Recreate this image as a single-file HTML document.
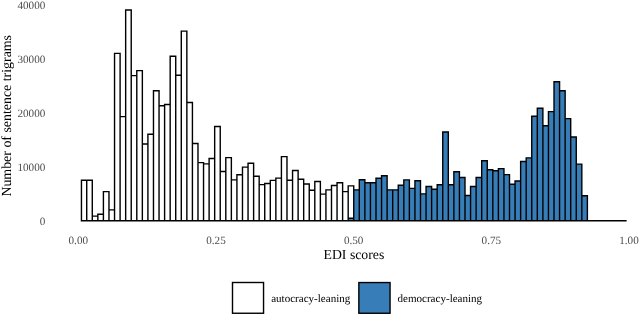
<!DOCTYPE html>
<html><head><meta charset="utf-8"><style>
html,body{margin:0;padding:0;background:#fff;}
svg{display:block;will-change:transform;}
text{font-family:"Liberation Serif",serif;text-rendering:geometricPrecision;}
</style></head><body>
<svg width="640" height="316" viewBox="0 0 640 316">
<rect width="640" height="316" fill="#fff"/>
<g>
<rect x="81.45" y="180.30" width="5.273" height="40.45" fill="#FFFFFF"/>
<rect x="86.72" y="180.30" width="5.563" height="40.45" fill="#FFFFFF"/>
<rect x="92.29" y="216.10" width="5.563" height="4.65" fill="#FFFFFF"/>
<rect x="97.85" y="214.20" width="5.563" height="6.55" fill="#FFFFFF"/>
<rect x="103.41" y="191.60" width="5.563" height="29.15" fill="#FFFFFF"/>
<rect x="108.97" y="209.90" width="5.563" height="10.85" fill="#FFFFFF"/>
<rect x="114.54" y="53.40" width="5.563" height="167.35" fill="#FFFFFF"/>
<rect x="120.10" y="116.60" width="5.563" height="104.15" fill="#FFFFFF"/>
<rect x="125.66" y="10.00" width="5.563" height="210.75" fill="#FFFFFF"/>
<rect x="131.23" y="75.60" width="5.563" height="145.15" fill="#FFFFFF"/>
<rect x="136.79" y="70.60" width="5.563" height="150.15" fill="#FFFFFF"/>
<rect x="142.35" y="144.00" width="5.563" height="76.75" fill="#FFFFFF"/>
<rect x="147.91" y="134.20" width="5.563" height="86.55" fill="#FFFFFF"/>
<rect x="153.48" y="90.80" width="5.563" height="129.95" fill="#FFFFFF"/>
<rect x="159.04" y="105.70" width="5.563" height="115.05" fill="#FFFFFF"/>
<rect x="164.60" y="104.50" width="5.563" height="116.25" fill="#FFFFFF"/>
<rect x="170.17" y="56.20" width="5.563" height="164.55" fill="#FFFFFF"/>
<rect x="175.73" y="75.30" width="5.563" height="145.45" fill="#FFFFFF"/>
<rect x="181.29" y="31.10" width="5.563" height="189.65" fill="#FFFFFF"/>
<rect x="186.86" y="102.50" width="5.563" height="118.25" fill="#FFFFFF"/>
<rect x="192.42" y="143.50" width="5.563" height="77.25" fill="#FFFFFF"/>
<rect x="197.98" y="162.60" width="5.563" height="58.15" fill="#FFFFFF"/>
<rect x="203.54" y="163.90" width="5.563" height="56.85" fill="#FFFFFF"/>
<rect x="209.11" y="158.50" width="5.563" height="62.25" fill="#FFFFFF"/>
<rect x="214.67" y="126.50" width="5.563" height="94.25" fill="#FFFFFF"/>
<rect x="220.23" y="171.50" width="5.563" height="49.25" fill="#FFFFFF"/>
<rect x="225.80" y="157.60" width="5.563" height="63.15" fill="#FFFFFF"/>
<rect x="231.36" y="179.90" width="5.563" height="40.85" fill="#FFFFFF"/>
<rect x="236.92" y="174.70" width="5.563" height="46.05" fill="#FFFFFF"/>
<rect x="242.48" y="167.10" width="5.563" height="53.65" fill="#FFFFFF"/>
<rect x="248.05" y="163.30" width="5.563" height="57.45" fill="#FFFFFF"/>
<rect x="253.61" y="176.20" width="5.563" height="44.55" fill="#FFFFFF"/>
<rect x="259.17" y="184.60" width="5.563" height="36.15" fill="#FFFFFF"/>
<rect x="264.74" y="183.50" width="5.563" height="37.25" fill="#FFFFFF"/>
<rect x="270.30" y="180.40" width="5.563" height="40.35" fill="#FFFFFF"/>
<rect x="275.86" y="178.10" width="5.563" height="42.65" fill="#FFFFFF"/>
<rect x="281.42" y="156.60" width="5.563" height="64.15" fill="#FFFFFF"/>
<rect x="286.99" y="180.30" width="5.563" height="40.45" fill="#FFFFFF"/>
<rect x="292.55" y="170.50" width="5.563" height="50.25" fill="#FFFFFF"/>
<rect x="298.11" y="179.20" width="5.563" height="41.55" fill="#FFFFFF"/>
<rect x="303.68" y="184.00" width="5.563" height="36.75" fill="#FFFFFF"/>
<rect x="309.24" y="190.30" width="5.563" height="30.45" fill="#FFFFFF"/>
<rect x="314.80" y="181.50" width="5.563" height="39.25" fill="#FFFFFF"/>
<rect x="320.36" y="194.10" width="5.563" height="26.65" fill="#FFFFFF"/>
<rect x="325.93" y="189.90" width="5.563" height="30.85" fill="#FFFFFF"/>
<rect x="331.49" y="185.50" width="5.563" height="35.25" fill="#FFFFFF"/>
<rect x="337.05" y="182.70" width="5.563" height="38.05" fill="#FFFFFF"/>
<rect x="342.62" y="191.60" width="5.563" height="29.15" fill="#FFFFFF"/>
<rect x="348.18" y="218.20" width="5.563" height="2.55" fill="#377EB8"/>
<rect x="348.18" y="185.90" width="5.563" height="32.30" fill="#FFFFFF"/>
<rect x="353.74" y="189.90" width="5.563" height="30.85" fill="#377EB8"/>
<rect x="359.30" y="179.80" width="5.563" height="40.95" fill="#377EB8"/>
<rect x="364.87" y="182.70" width="5.563" height="38.05" fill="#377EB8"/>
<rect x="370.43" y="182.70" width="5.563" height="38.05" fill="#377EB8"/>
<rect x="375.99" y="178.30" width="5.563" height="42.45" fill="#377EB8"/>
<rect x="381.56" y="175.80" width="5.563" height="44.95" fill="#377EB8"/>
<rect x="387.12" y="189.90" width="5.563" height="30.85" fill="#377EB8"/>
<rect x="392.68" y="189.90" width="5.563" height="30.85" fill="#377EB8"/>
<rect x="398.25" y="185.30" width="5.563" height="35.45" fill="#377EB8"/>
<rect x="403.81" y="179.90" width="5.563" height="40.85" fill="#377EB8"/>
<rect x="409.37" y="188.40" width="5.563" height="32.35" fill="#377EB8"/>
<rect x="414.93" y="180.70" width="5.563" height="40.05" fill="#377EB8"/>
<rect x="420.50" y="193.90" width="5.563" height="26.85" fill="#377EB8"/>
<rect x="426.06" y="186.50" width="5.563" height="34.25" fill="#377EB8"/>
<rect x="431.62" y="189.30" width="5.563" height="31.45" fill="#377EB8"/>
<rect x="437.19" y="184.70" width="5.563" height="36.05" fill="#377EB8"/>
<rect x="442.75" y="132.00" width="5.563" height="88.75" fill="#377EB8"/>
<rect x="448.31" y="184.70" width="5.563" height="36.05" fill="#377EB8"/>
<rect x="453.87" y="171.80" width="5.563" height="48.95" fill="#377EB8"/>
<rect x="459.44" y="177.50" width="5.563" height="43.25" fill="#377EB8"/>
<rect x="465.00" y="195.50" width="5.563" height="25.25" fill="#377EB8"/>
<rect x="470.56" y="186.50" width="5.563" height="34.25" fill="#377EB8"/>
<rect x="476.13" y="177.50" width="5.563" height="43.25" fill="#377EB8"/>
<rect x="481.69" y="160.70" width="5.563" height="60.05" fill="#377EB8"/>
<rect x="487.25" y="169.80" width="5.563" height="50.95" fill="#377EB8"/>
<rect x="492.81" y="170.70" width="5.563" height="50.05" fill="#377EB8"/>
<rect x="498.38" y="168.60" width="5.563" height="52.15" fill="#377EB8"/>
<rect x="503.94" y="174.60" width="5.563" height="46.15" fill="#377EB8"/>
<rect x="509.50" y="184.30" width="5.563" height="36.45" fill="#377EB8"/>
<rect x="515.07" y="181.00" width="5.563" height="39.75" fill="#377EB8"/>
<rect x="520.63" y="161.50" width="5.563" height="59.25" fill="#377EB8"/>
<rect x="526.19" y="157.90" width="5.563" height="62.85" fill="#377EB8"/>
<rect x="531.75" y="116.20" width="5.563" height="104.55" fill="#377EB8"/>
<rect x="537.32" y="108.20" width="5.563" height="112.55" fill="#377EB8"/>
<rect x="542.88" y="125.80" width="5.563" height="94.95" fill="#377EB8"/>
<rect x="548.44" y="111.60" width="5.563" height="109.15" fill="#377EB8"/>
<rect x="554.01" y="81.80" width="5.563" height="138.95" fill="#377EB8"/>
<rect x="559.57" y="90.70" width="5.563" height="130.05" fill="#377EB8"/>
<rect x="565.13" y="118.60" width="5.563" height="102.15" fill="#377EB8"/>
<rect x="570.70" y="137.00" width="5.563" height="83.75" fill="#377EB8"/>
<rect x="576.26" y="164.10" width="5.563" height="56.65" fill="#377EB8"/>
<rect x="581.82" y="195.80" width="5.563" height="24.95" fill="#377EB8"/>
</g>
<path d="M81.45 180.30h5.273v40.45h-5.273zM86.72 180.30h5.563v40.45h-5.563zM92.29 216.10h5.563v4.65h-5.563zM97.85 214.20h5.563v6.55h-5.563zM103.41 191.60h5.563v29.15h-5.563zM108.97 209.90h5.563v10.85h-5.563zM114.54 53.40h5.563v167.35h-5.563zM120.10 116.60h5.563v104.15h-5.563zM125.66 10.00h5.563v210.75h-5.563zM131.23 75.60h5.563v145.15h-5.563zM136.79 70.60h5.563v150.15h-5.563zM142.35 144.00h5.563v76.75h-5.563zM147.91 134.20h5.563v86.55h-5.563zM153.48 90.80h5.563v129.95h-5.563zM159.04 105.70h5.563v115.05h-5.563zM164.60 104.50h5.563v116.25h-5.563zM170.17 56.20h5.563v164.55h-5.563zM175.73 75.30h5.563v145.45h-5.563zM181.29 31.10h5.563v189.65h-5.563zM186.86 102.50h5.563v118.25h-5.563zM192.42 143.50h5.563v77.25h-5.563zM197.98 162.60h5.563v58.15h-5.563zM203.54 163.90h5.563v56.85h-5.563zM209.11 158.50h5.563v62.25h-5.563zM214.67 126.50h5.563v94.25h-5.563zM220.23 171.50h5.563v49.25h-5.563zM225.80 157.60h5.563v63.15h-5.563zM231.36 179.90h5.563v40.85h-5.563zM236.92 174.70h5.563v46.05h-5.563zM242.48 167.10h5.563v53.65h-5.563zM248.05 163.30h5.563v57.45h-5.563zM253.61 176.20h5.563v44.55h-5.563zM259.17 184.60h5.563v36.15h-5.563zM264.74 183.50h5.563v37.25h-5.563zM270.30 180.40h5.563v40.35h-5.563zM275.86 178.10h5.563v42.65h-5.563zM281.42 156.60h5.563v64.15h-5.563zM286.99 180.30h5.563v40.45h-5.563zM292.55 170.50h5.563v50.25h-5.563zM298.11 179.20h5.563v41.55h-5.563zM303.68 184.00h5.563v36.75h-5.563zM309.24 190.30h5.563v30.45h-5.563zM314.80 181.50h5.563v39.25h-5.563zM320.36 194.10h5.563v26.65h-5.563zM325.93 189.90h5.563v30.85h-5.563zM331.49 185.50h5.563v35.25h-5.563zM337.05 182.70h5.563v38.05h-5.563zM342.62 191.60h5.563v29.15h-5.563zM348.18 218.20h5.563v2.55h-5.563zM348.18 185.90h5.563v32.30h-5.563zM353.74 189.90h5.563v30.85h-5.563zM359.30 179.80h5.563v40.95h-5.563zM364.87 182.70h5.563v38.05h-5.563zM370.43 182.70h5.563v38.05h-5.563zM375.99 178.30h5.563v42.45h-5.563zM381.56 175.80h5.563v44.95h-5.563zM387.12 189.90h5.563v30.85h-5.563zM392.68 189.90h5.563v30.85h-5.563zM398.25 185.30h5.563v35.45h-5.563zM403.81 179.90h5.563v40.85h-5.563zM409.37 188.40h5.563v32.35h-5.563zM414.93 180.70h5.563v40.05h-5.563zM420.50 193.90h5.563v26.85h-5.563zM426.06 186.50h5.563v34.25h-5.563zM431.62 189.30h5.563v31.45h-5.563zM437.19 184.70h5.563v36.05h-5.563zM442.75 132.00h5.563v88.75h-5.563zM448.31 184.70h5.563v36.05h-5.563zM453.87 171.80h5.563v48.95h-5.563zM459.44 177.50h5.563v43.25h-5.563zM465.00 195.50h5.563v25.25h-5.563zM470.56 186.50h5.563v34.25h-5.563zM476.13 177.50h5.563v43.25h-5.563zM481.69 160.70h5.563v60.05h-5.563zM487.25 169.80h5.563v50.95h-5.563zM492.81 170.70h5.563v50.05h-5.563zM498.38 168.60h5.563v52.15h-5.563zM503.94 174.60h5.563v46.15h-5.563zM509.50 184.30h5.563v36.45h-5.563zM515.07 181.00h5.563v39.75h-5.563zM520.63 161.50h5.563v59.25h-5.563zM526.19 157.90h5.563v62.85h-5.563zM531.75 116.20h5.563v104.55h-5.563zM537.32 108.20h5.563v112.55h-5.563zM542.88 125.80h5.563v94.95h-5.563zM548.44 111.60h5.563v109.15h-5.563zM554.01 81.80h5.563v138.95h-5.563zM559.57 90.70h5.563v130.05h-5.563zM565.13 118.60h5.563v102.15h-5.563zM570.70 137.00h5.563v83.75h-5.563zM576.26 164.10h5.563v56.65h-5.563zM581.82 195.80h5.563v24.95h-5.563zM587.38 220.75H626.62" fill="none" stroke="#000" stroke-width="1.4" stroke-linejoin="miter"/>
<g font-size="11.15" fill="#4D4D4D">
<text x="45.3" y="224.75" text-anchor="end">0</text>
<text x="45.3" y="170.85" text-anchor="end">10000</text>
<text x="45.3" y="116.95" text-anchor="end">20000</text>
<text x="45.3" y="63.05" text-anchor="end">30000</text>
<text x="45.3" y="9.15" text-anchor="end">40000</text>
<text x="78.30" y="244.2" text-anchor="middle">0.00</text>
<text x="215.98" y="244.2" text-anchor="middle">0.25</text>
<text x="353.65" y="244.2" text-anchor="middle">0.50</text>
<text x="491.33" y="244.2" text-anchor="middle">0.75</text>
<text x="629.00" y="244.2" text-anchor="middle">1.00</text>
</g>
<text x="353.9" y="259.45" font-size="13.75" text-anchor="middle" fill="#000">EDI scores</text>
<text transform="translate(11.2,115.8) rotate(-90)" font-size="13.9" text-anchor="middle" fill="#000">Number of sentence trigrams</text>
<rect x="232.5" y="282.5" width="31.05" height="30.75" fill="#fff" stroke="#000" stroke-width="1.4"/>
<rect x="358.85" y="282.55" width="31.2" height="30.7" fill="#377EB8" stroke="#000" stroke-width="1.4"/>
<text x="271.2" y="301.6" font-size="11.05" fill="#000">autocracy-leaning</text>
<text x="397.5" y="301.6" font-size="11.05" fill="#000">democracy-leaning</text>
</svg>
</body></html>
